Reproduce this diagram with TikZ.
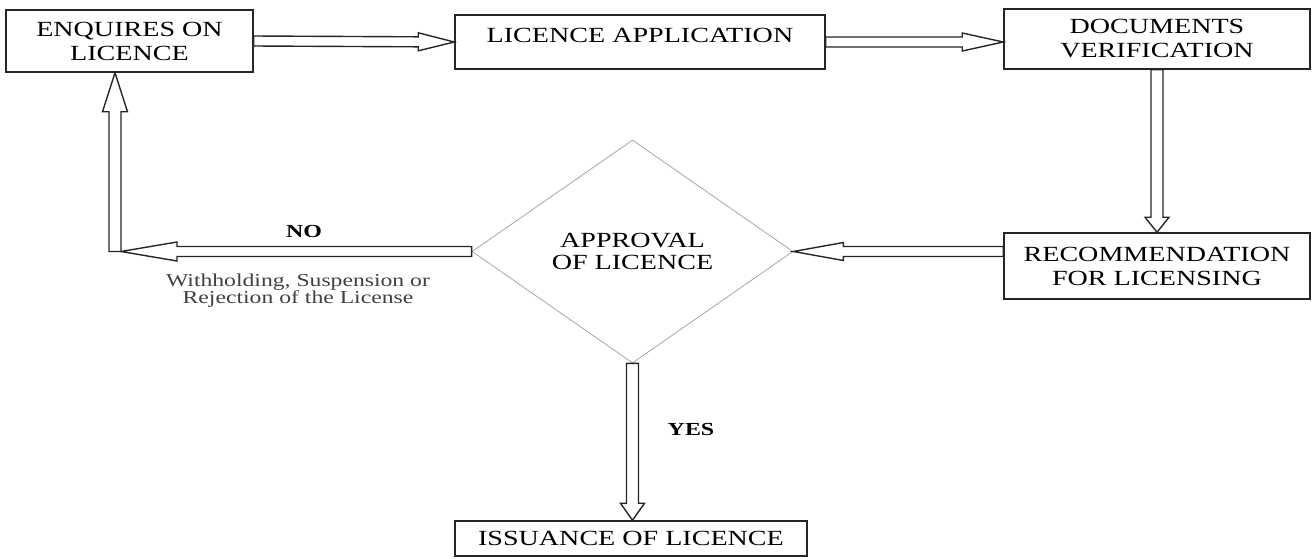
\documentclass[tikz,border=0pt]{standalone}
\usepackage{fontspec}
\setmainfont{Liberation Serif}[FakeStretch=1.3]
\usetikzlibrary{calc,shapes.geometric}

\tikzset{
  stepbox/.style={draw=black!85,line width=0.75pt,align=center,inner sep=0pt,
    font=\fontsize{10.8}{12}\selectfont},
  decision/.style={diamond,draw=black!35,line width=0.4pt,align=center,inner sep=0pt,
    aspect=1.44,font=\fontsize{10.8}{11.4}\selectfont},
  blockarrow/.style={draw=black!85,line width=0.7pt,fill=white,line join=miter},
  answer/.style={font=\fontsize{9.2}{9.4}\selectfont\bfseries,inner sep=0pt},
  note/.style={font=\fontsize{9.1}{8.6}\selectfont,text=black!75,align=center,inner sep=0pt},
}

% hollow block arrow: from, to, shaft half width, head length, head half width
\newcommand{\hollowarrow}[5]{%
  \coordinate (hb) at ($(#2)!#4!(#1)$);
  \draw[blockarrow] ($(#1)!#3!90:(#2)$) -- ($(hb)!#3!90:(#2)$) -- ($(hb)!#5!90:(#2)$)
    -- (#2) -- ($(hb)!#5!-90:(#2)$) -- ($(hb)!#3!-90:(#2)$) -- ($(#1)!#3!-90:(#2)$) -- cycle;
}

\begin{document}
\begin{tikzpicture}[x=0.5pt,y=-0.5pt]
\useasboundingbox (0,0) rectangle (1312,558);

% steps
\node[stepbox,minimum width=123.5pt,minimum height=31pt] (enq) at (129.5,41) {ENQUIRES ON\\LICENCE};
\node[stepbox,minimum width=185pt,minimum height=27pt,text depth=6.9pt] (appl) at (640,42) {LICENCE APPLICATION};
\node[stepbox,minimum width=153pt,minimum height=30pt] (docs) at (1157,39) {DOCUMENTS\\VERIFICATION};
\node[stepbox,minimum width=153pt,minimum height=33pt] (recom) at (1157,266) {RECOMMENDATION\\FOR LICENSING};
\node[decision,minimum width=160.5pt,minimum height=111.5pt] (appr) at (632.5,251.5) {APPROVAL\\OF LICENCE};
\node[stepbox,minimum width=176pt,minimum height=17.5pt] (issue) at (631,538.5) {ISSUANCE OF LICENCE};

% turning points
\coordinate (docsin) at (appl.east -| docs.west);
\coordinate (recomout) at (recom.west |- appr.east);
\coordinate (turn) at (115,0 |- appr.west);
\coordinate (noend) at ([xshift=3pt]turn);
\coordinate (enqin) at (turn |- enq.south);
\coordinate (issuein) at (appr.south |- issue.north);

% connectors
\hollowarrow{enq.east}{appl.west}{2.5pt}{18pt}{4.5pt}
\hollowarrow{appl.east}{docsin}{2.5pt}{20.5pt}{4.5pt}
\hollowarrow{docs.south}{recom.north}{3pt}{7.5pt}{6pt}
\hollowarrow{recomout}{appr.east}{2.5pt}{25pt}{4.5pt}
\hollowarrow{appr.west}{noend}{2.5pt}{28pt}{4.75pt}
\hollowarrow{turn}{enqin}{3pt}{19.5pt}{6.25pt}
\hollowarrow{appr.south}{issuein}{3pt}{8.5pt}{6pt}

% labels
\node[answer] (no) at (304,231.5) {NO};
\node[note,anchor=north] (why) at (298,273) {Withholding, Suspension or\\Rejection of the License};
\node[answer] (yes) at (691,429) {YES};
\end{tikzpicture}
\end{document}
